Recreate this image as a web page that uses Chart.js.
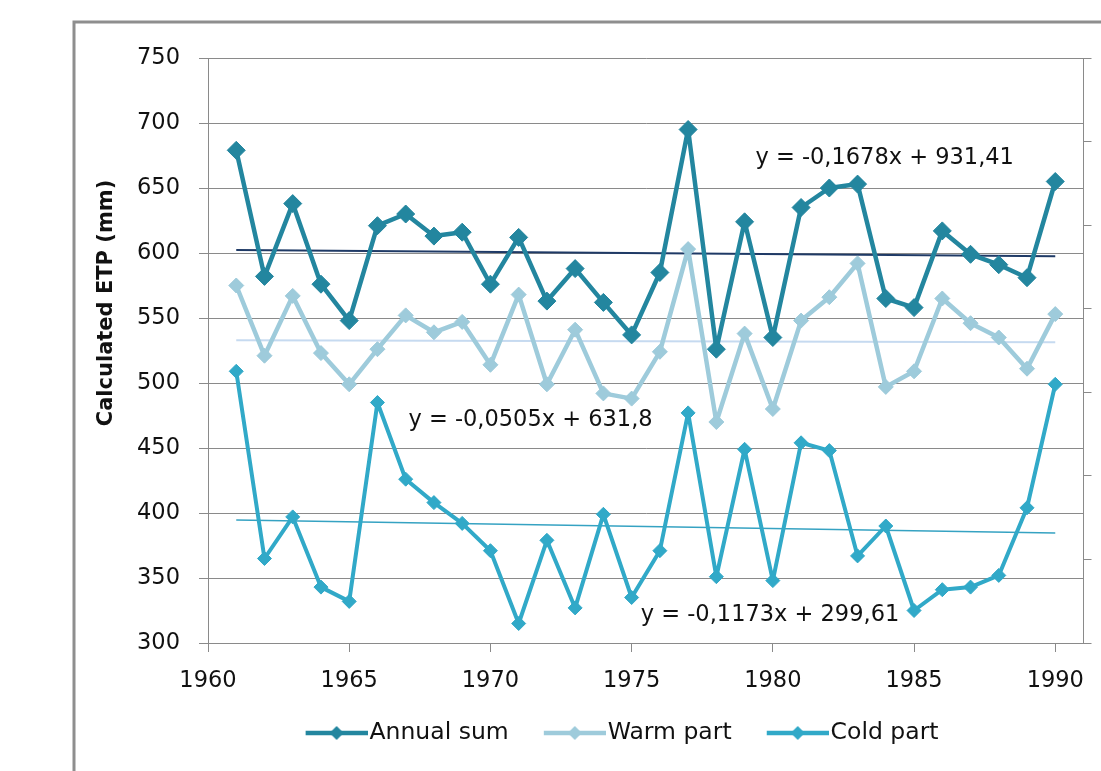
<!DOCTYPE html>
<html>
<head>
<meta charset="utf-8">
<script src="https://cdn.jsdelivr.net/npm/chart.js@4.4.1/dist/chart.umd.min.js"></script>
<style>
  html, body { margin: 0; padding: 0; background: #fff; }
  canvas { display: block; }
</style>
</head>
<body>
<canvas id="etpChart" width="1101" height="771"></canvas>
<script>
// values (mm)
const years = [1961, 1962, 1963, 1964, 1965, 1966, 1967, 1968, 1969, 1970,
               1971, 1972, 1973, 1974, 1975, 1976, 1977, 1978, 1979, 1980,
               1981, 1982, 1983, 1984, 1985, 1986, 1987, 1988, 1989, 1990];
const annualSum = [679, 582, 638, 576, 548, 621, 630, 613, 616, 576,
                   612, 563, 588, 562, 537, 585, 695, 526, 624, 535,
                   635, 650, 653, 565, 558, 617, 599, 591, 581, 655];
const warmPart = [575, 521, 567, 523, 499, 526, 552, 539, 547, 514,
                  568, 499, 541, 492, 488, 524, 603, 470, 538, 480,
                  548, 566, 592, 497, 509, 565, 546, 535, 511, 553];
const coldPart = [509, 365, 397, 343, 332, 485, 426, 408, 392, 371,
                  315, 379, 327, 399, 335, 371, 477, 351, 449, 348,
                  454, 448, 367, 390, 325, 341, 343, 352, 404, 499];

// linear trends, values at first and last year
const trendYears = [1961, 1990];
const annualTrend = [602.4, 597.5];
const warmTrend = [532.8, 531.3];
const coldTrend = [394.6, 384.6];

const yTicks = [300, 750, 50];   // min, max, step
const xTicks = [1960, 1991, 5];

const equations = [
  { text: 'y = -0,1678x + 931,41', x: 1983.96, y: 673.2 },
  { text: 'y = -0,0505x + 631,8', x: 1971.42, y: 471.2 },
  { text: 'y = -0,1173x + 299,61', x: 1979.9, y: 321.2 }
];

const colAnnual = '#23869f';
const colWarm = '#9ecbdb';
const colCold = '#31a9c8';
const gridColor = '#8a8a8a';
const FONT = 'DejaVu Sans';

Chart.defaults.font.family = FONT;
Chart.defaults.color = '#111';

const toPoints = (xs, ys) => xs.map((x, i) => ({ x: x, y: ys[i] }));

// legend symbol: short line with a diamond, blank margin on the left
// so the items get spaced out without a big legend padding
function legendIcon(color, r) {
  const margin = 35, len = 62;
  const c = document.createElement('canvas');
  c.width = margin + len; c.height = 24;
  const g = c.getContext('2d');
  const mid = margin + len / 2;
  g.strokeStyle = color; g.fillStyle = color; g.lineWidth = 4.5;
  g.beginPath(); g.moveTo(margin, 12); g.lineTo(margin + len, 12); g.stroke();
  g.beginPath();
  g.moveTo(mid - r, 12); g.lineTo(mid, 12 - r); g.lineTo(mid + r, 12); g.lineTo(mid, 12 + r);
  g.closePath(); g.fill();
  return c;
}
const legendIcons = [legendIcon(colAnnual, 7), legendIcon(colWarm, 7), legendIcon(colCold, 7)];

const framePlugin = {
  id: 'frame',
  beforeDraw(chart) {
    const ctx = chart.ctx;
    ctx.save();
    ctx.fillStyle = '#fff';
    ctx.fillRect(0, 0, chart.width, chart.height);
    ctx.strokeStyle = '#8e8e8e';
    ctx.lineWidth = 3;
    ctx.strokeRect(74, 22, 1200, 900);
    ctx.restore();
  }
};

const textPlugin = {
  id: 'texts',
  afterDatasetsDraw(chart) {
    const ctx = chart.ctx;
    const xs = chart.scales.x, ys = chart.scales.y;
    ctx.save();
    ctx.fillStyle = '#111';
    ctx.font = '22.5px "' + FONT + '"';
    ctx.textAlign = 'center';
    ctx.textBaseline = 'middle';
    equations.forEach(e => ctx.fillText(e.text, xs.getPixelForValue(e.x), ys.getPixelForValue(e.y)));
    ctx.restore();
  },
  afterDraw(chart) {
    const ctx = chart.ctx;
    ctx.save();
    ctx.translate(112, 303);
    ctx.rotate(-Math.PI / 2);
    ctx.fillStyle = '#111';
    ctx.font = 'bold 21px "' + FONT + '"';
    ctx.textAlign = 'center';
    ctx.textBaseline = 'alphabetic';
    ctx.fillText('Calculated ETP (mm)', 0, 0);
    ctx.restore();
  }
};

const seriesStyle = (color, r, w) => ({
  borderColor: color,
  backgroundColor: color,
  borderWidth: w,
  borderJoinStyle: 'round',
  pointStyle: 'rectRot',
  pointRadius: r,
  pointBorderWidth: 1,
  pointBackgroundColor: color,
  pointBorderColor: color,
  tension: 0
});
const trendStyle = (color, w) => ({
  borderColor: color,
  borderWidth: w,
  pointRadius: 0,
  tension: 0
});

new Chart(document.getElementById('etpChart'), {
  type: 'line',
  data: {
    datasets: [
      { label: 'Annual sum', data: toPoints(years, annualSum), ...seriesStyle(colAnnual, 9, 4.5) },
      { label: 'Warm part', data: toPoints(years, warmPart), ...seriesStyle(colWarm, 7.5, 4.5) },
      { label: 'Cold part', data: toPoints(years, coldPart), ...seriesStyle(colCold, 7, 4) },
      { label: 'trend annual', data: toPoints(trendYears, annualTrend), ...trendStyle('#1f3a66', 2) },
      { label: 'trend warm', data: toPoints(trendYears, warmTrend), ...trendStyle('#c6daf0', 2) },
      { label: 'trend cold', data: toPoints(trendYears, coldTrend), ...trendStyle('#35a2c2', 1.5) }
    ]
  },
  options: {
    responsive: false,
    animation: false,
    events: [],
    layout: { padding: { left: 118, top: 58, right: 0, bottom: 16.25 } },
    plugins: {
      tooltip: { enabled: false },
      legend: {
        position: 'bottom',
        labels: {
          usePointStyle: true,
          pointStyleWidth: 77.25,
          padding: 10,
          color: '#111',
          font: { size: 23.5, lineHeight: 1 },
          generateLabels: chart => Chart.defaults.plugins.legend.labels.generateLabels(chart)
            .filter(l => l.datasetIndex < 3)
            .map(l => ({ ...l, pointStyle: legendIcons[l.datasetIndex] }))
        }
      }
    },
    scales: {
      x: {
        type: 'linear',
        min: xTicks[0],
        max: xTicks[1],
        ticks: {
          stepSize: xTicks[2],
          includeBounds: false,
          autoSkip: false,
          maxRotation: 0,
          padding: 16,
          font: { size: 22.5 },
          callback: v => String(v)
        },
        grid: { drawOnChartArea: false, tickLength: 9, color: gridColor },
        border: { color: gridColor },
        afterFit: s => { s.height = 68.25; }
      },
      y: {
        type: 'linear',
        position: 'left',
        min: yTicks[0],
        max: yTicks[1],
        ticks: { stepSize: yTicks[2], padding: 19, font: { size: 22.5 } },
        grid: { color: gridColor, tickLength: 9 },
        border: { color: gridColor },
        afterFit: s => { s.width = 90; }
      },
      y2: {
        type: 'linear',
        position: 'right',
        min: 0,
        max: 7,
        ticks: { stepSize: 1, display: false },
        grid: { drawOnChartArea: false, tickLength: 8, color: gridColor },
        border: { color: gridColor },
        afterFit: s => { s.width = 17.5; }
      }
    }
  },
  plugins: [framePlugin, textPlugin]
});
</script>
</body>
</html>
